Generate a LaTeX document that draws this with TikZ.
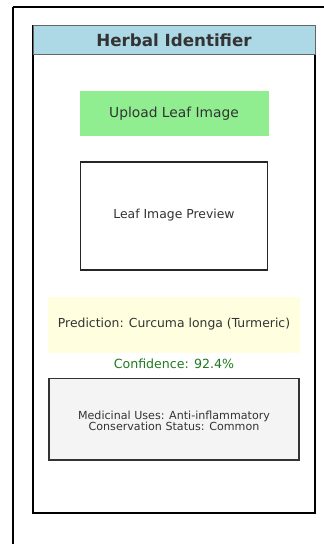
\documentclass[tikz,border=0pt]{standalone}
\usepackage{fontspec}
\setmainfont{DejaVu Sans}
\definecolor{txt}{HTML}{333333}
\definecolor{hdr}{HTML}{ADD8E6}
\definecolor{btn}{HTML}{90EE90}
\definecolor{pred}{HTML}{FFFFE0}
\definecolor{info}{HTML}{F4F4F4}
\definecolor{conf}{HTML}{1E7B1E}
\begin{document}
\begin{tikzpicture}[x=1pt,y=-1pt,
  lbl/.style={text=txt, inner sep=0pt},
  box/.style={draw=black!85, line width=1.5pt}]
\useasboundingbox (0,0) rectangle (324,544);
\fill[white] (0,0) rectangle (324,544);
% outer frame
\draw[line width=2pt] (12.5,6.5) -- (330,6.5);
\draw[line width=2pt] (12.5,6.5) -- (12.5,550);
% phone frame
\draw[line width=2.2pt, fill=white] (33,26) rectangle (315,513);
\draw[fill=hdr, draw=black!60, line width=1pt] (33,25.5) rectangle (315,54);
\node[lbl, font=\bfseries\fontsize{16.7}{18}\selectfont] (title) at (174,40) {Herbal Identifier};
% upload button
\fill[btn] (79.5,91) rectangle (268.5,136);
\node[lbl, font=\fontsize{13.8}{15}\selectfont] (upload) at (174,113.5) {Upload Leaf Image};
% preview
\draw[box] (80.5,162) rectangle (267.5,270);
\node[lbl, font=\fontsize{12.4}{14}\selectfont] (preview) at (174,215.5) {Leaf Image Preview};
% prediction
\fill[pred] (48,296.5) rectangle (300,352.5);
\node[lbl, font=\fontsize{12.4}{14}\selectfont] (prediction) at (174,324) {Prediction: Curcuma longa (Turmeric)};
\node[inner sep=0pt, text=conf, font=\fontsize{12.6}{14}\selectfont] (confidence) at (174,364) {Confidence: 92.4\%};
% info
\draw[box, fill=info, draw=black!80] (49,378.5) rectangle (299,460);
\node[lbl, align=center, font=\fontsize{11.1}{11.6}\selectfont] (info) at (174,421) {Medicinal Uses: Anti-inflammatory\\Conservation Status: Common};
\end{tikzpicture}
\end{document}
